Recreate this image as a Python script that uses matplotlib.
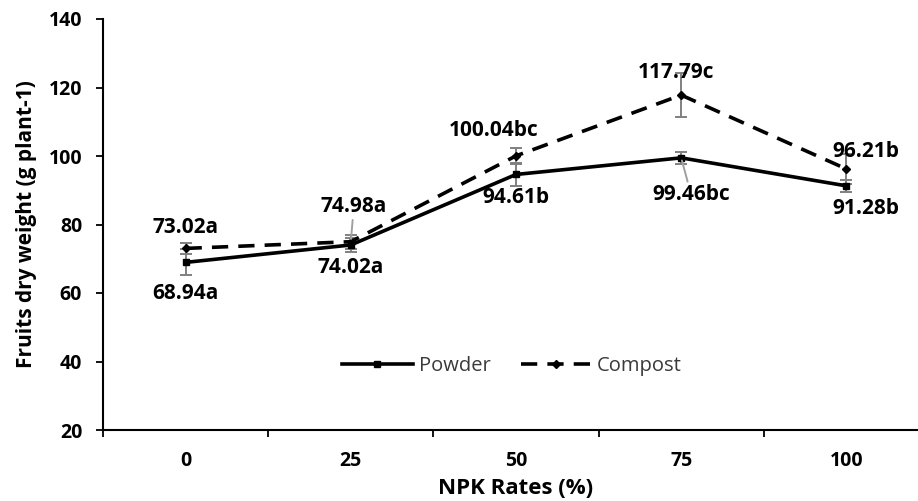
import numpy as np
from matplotlib import pyplot as plt

# data
rates = ["0", "25", "50", "75", "100"]
powder = [68.94, 74.02, 94.61, 99.46, 91.28]
compost = [73.02, 74.98, 100.04, 117.79, 96.21]
powder_err = [3.8, 2.0, 3.4, 1.7, 1.8]
compost_err = [1.6, 2.0, 2.4, 6.3, 4.5]
powder_labels = ["68.94a", "74.02a", "94.61b", "99.46bc", "91.28b"]
compost_labels = ["73.02a", "74.98a", "100.04bc", "117.79c", "96.21b"]

# label offsets in pixels (dx, dy up)
powder_off = [(0, -31), (0, -23), (0, -23), (10, -37), (19, -23)]
compost_off = [(0, 21), (3, 35), (-22, 25), (-5, 23), (19, 17)]
powder_leader = [False, False, False, True, False]
compost_leader = [False, True, False, False, False]

plt.rcParams['font.family'] = ['Open Sans', 'DejaVu Sans']

W, H = 918, 501
fig = plt.figure(figsize=(W / 100, H / 100), dpi=100)
ax = fig.add_axes([103 / W, 1 - 430 / H, (929 - 103) / W, (430 - 19) / H])

x = np.arange(len(rates))
gray = "#808080"

ax.errorbar(x, powder, yerr=powder_err, fmt="none", ecolor=gray, elinewidth=1.4,
            capsize=4, capthick=1.4, zorder=2)
ax.errorbar(x, compost, yerr=compost_err, fmt="none", ecolor=gray, elinewidth=1.4,
            capsize=4, capthick=1.4, zorder=2)
ax.plot(x, powder, color="k", lw=2.6, marker="s", ms=4.5, label="Powder", zorder=3)
ax.plot(x, compost, color="k", lw=2.6, ls=(0, (4.5, 2.8)), marker="D", ms=4.5,
        label="Compost", zorder=3)

def put_labels(vals, labels, offs, leaders):
    for i, (v, t, o, ld) in enumerate(zip(vals, labels, offs, leaders)):
        props = dict(arrowstyle="-", color="#a0a0a0", lw=1.4, shrinkA=0, shrinkB=2) if ld else None
        ax.annotate(t, xy=(i, v), xytext=o, textcoords="offset pixels",
                    ha="center", va="center", fontsize=15, fontweight="bold",
                    arrowprops=props, zorder=4)

put_labels(powder, powder_labels, powder_off, powder_leader)
put_labels(compost, compost_labels, compost_off, compost_leader)

ax.set_xlim(-0.5, 4.5)
ax.set_ylim(20, 140)
ax.set_yticks(range(20, 141, 20))
ax.set_xticks(np.arange(-0.5, 4.6, 1.0))
ax.set_xticklabels([])
ax.set_xticks(x, minor=True)
ax.set_xticklabels(rates, minor=True)
ax.tick_params(axis="x", which="major", length=5, width=1.3, direction="out")
ax.tick_params(axis="x", which="minor", length=0, pad=15, labelsize=14)
ax.tick_params(axis="y", length=5, width=1.3, direction="out", pad=10, labelsize=14)
for lab in ax.get_xticklabels(minor=True) + ax.get_yticklabels():
    lab.set_fontweight("bold")

for s in ["top", "right"]:
    ax.spines[s].set_visible(False)
for s in ["left", "bottom"]:
    ax.spines[s].set_linewidth(1.5)

ax.set_xlabel("NPK Rates (%)", fontsize=16, fontweight="bold", labelpad=5)
ax.set_ylabel("Fruits dry weight (g plant-1)", fontsize=15, fontweight="bold", labelpad=8)

ax.legend(loc="center", bbox_to_anchor=((512 - 103) / 826, (430 - 366) / 411), ncol=2,
          frameon=False, fontsize=14.5, handlelength=3.5, columnspacing=1.5, handletextpad=0.3,
          labelcolor="#3a3a3a")

fig.savefig("out.png", dpi=100)
